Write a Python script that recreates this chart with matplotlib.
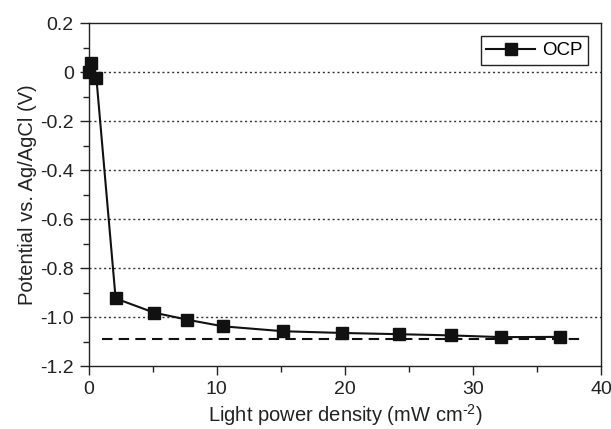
import numpy as np
import matplotlib.pyplot as plt
from matplotlib.ticker import MultipleLocator, FixedLocator

plt.rcParams['font.family'] = ['Liberation Sans', 'DejaVu Sans']
plt.rcParams['mathtext.fontset'] = 'custom'
plt.rcParams['mathtext.rm'] = 'Liberation Sans'

# light power density (mW cm-2) and open circuit potential (V vs Ag/AgCl)
power = [0.0, 0.15, 0.6, 2.1, 5.1, 7.7, 10.5, 15.2, 19.8, 24.2, 28.3, 32.2, 36.8]
ocp = [0.0, 0.036, -0.024, -0.923, -0.981, -1.010, -1.037, -1.057, -1.064,
       -1.069, -1.074, -1.081, -1.080]
ref_level = -1.09
ref_span = [1.0, 38.7]
yticks = [0.2, 0.0, -0.2, -0.4, -0.6, -0.8, -1.0, -1.2]
ytick_labels = ['0.2', '0', '-0.2', '-0.4', '-0.6', '-0.8', '-1.0', '-1.2']
grid_levels = [0.0, -0.2, -0.4, -0.6, -0.8, -1.0]

fig = plt.figure(figsize=(6.11, 4.29), dpi=100)
ax = fig.add_axes([0.1452, 0.1462, 0.8384, 0.7995])

for g in grid_levels:
    ax.axhline(g, color='#333333', linestyle=(0, (1.5, 2)), linewidth=1.0, zorder=1)

ax.plot(ref_span, [ref_level, ref_level], color='#111111', linestyle=(0, (5, 3)),
        linewidth=1.5, zorder=2)
ax.plot(power, ocp, color='#111111', marker='s', markersize=9, linewidth=1.5,
        label='OCP', zorder=3, clip_on=False)

ax.set_xlim(0, 40)
ax.set_ylim(-1.2, 0.2)
ax.xaxis.set_major_locator(MultipleLocator(10))
ax.xaxis.set_minor_locator(MultipleLocator(5))
ax.yaxis.set_major_locator(FixedLocator(yticks))
ax.set_yticklabels(ytick_labels)
ax.yaxis.set_minor_locator(MultipleLocator(0.1))
ax.tick_params(which='major', direction='out', length=6.7, width=1.0, labelsize=14,
               colors='#222222', pad=4)
ax.tick_params(which='minor', direction='out', length=4.3, width=1.0, colors='#222222')
for s in ax.spines.values():
    s.set_color('#222222')
    s.set_linewidth(1.0)

ax.set_xlabel('Light power density (mW cm$^{\\text{-2}}$)', fontsize=14.5,
              color='#222222', labelpad=3)
ax.set_ylabel('Potential vs. Ag/AgCl (V)', fontsize=14.5, color='#222222', labelpad=2)

leg = ax.legend(loc='upper right', fontsize=13.5, fancybox=False, framealpha=1,
                edgecolor='#222222', handlelength=2.6, borderpad=0.3,
                handletextpad=0.35, borderaxespad=0.7)
leg.get_frame().set_linewidth(1.0)

fig.savefig('out.png', dpi=100)
